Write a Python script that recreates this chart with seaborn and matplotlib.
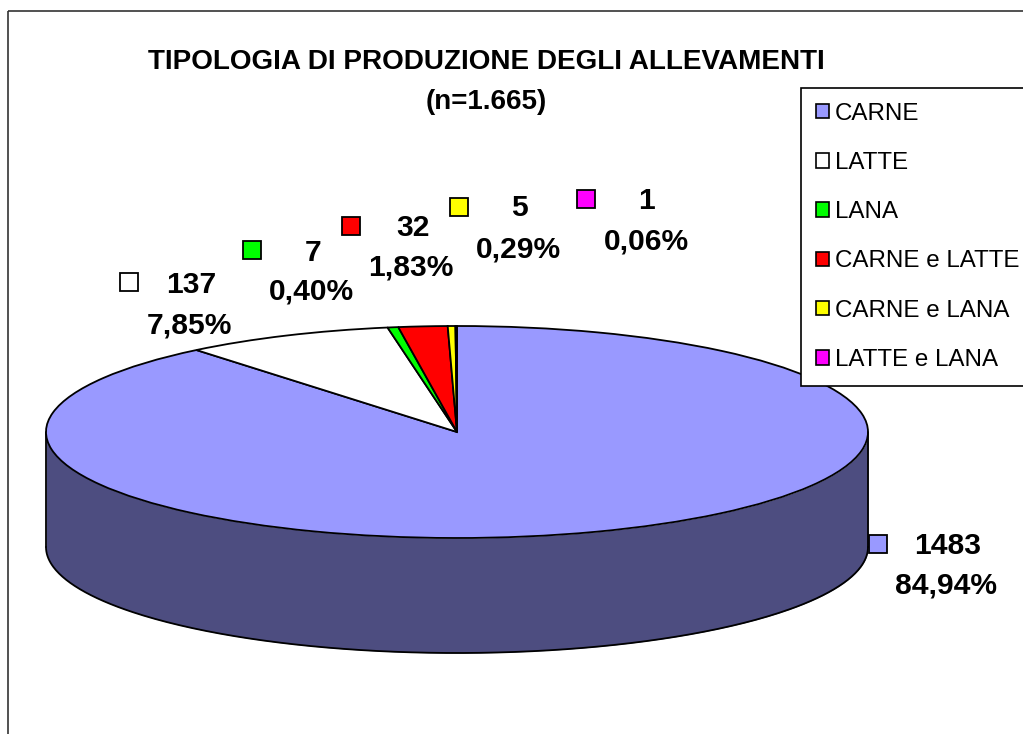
import numpy as np
import seaborn as sns
import matplotlib.pyplot as plt
from matplotlib.patches import Rectangle

# data
categories = ['CARNE', 'LATTE', 'LANA', 'CARNE e LATTE', 'CARNE e LANA', 'LATTE e LANA']
counts = [1483, 137, 7, 32, 5, 1]
percent_labels = ['84,94%', '7,85%', '0,40%', '1,83%', '0,29%', '0,06%']
colors = ['#9999FF', '#FFFFFF', '#00FF00', '#FF0000', '#FFFF00', '#FF00FF']
side_color = '#4D4D80'
title_lines = ['TIPOLOGIA DI PRODUZIONE DEGLI ALLEVAMENTI', '(n=1.665)']

W, H = 1023, 734

sns.set_theme(style='white')
plt.rcParams['font.family'] = ['Liberation Sans', 'DejaVu Sans']
palette = sns.color_palette(colors)

fig = plt.figure(figsize=(W / 100, H / 100), dpi=100, facecolor='white')

# background axes in pixel coordinates, for the frame and the labels
ax = fig.add_axes([0, 0, 1, 1], zorder=0)
ax.set_xlim(0, W)
ax.set_ylim(H, 0)
ax.axis('off')

ax.add_patch(Rectangle((8, 11), W + 20, H + 20, fill=False, edgecolor='#333333', lw=1.2))

ax.text(486, 62, title_lines[0], ha='center', va='center', fontsize=20.1, fontweight='bold', color='black')
ax.text(486, 102, title_lines[1], ha='center', va='center', fontsize=20, fontweight='bold', color='black')

# key square x, y, count centre, percent centre for each label
label_pos = [
    (869, 535, (948, 546), (946, 586)),
    (120, 273, (191, 285), (189, 325)),
    (243, 241, (313, 253), (311, 292)),
    (342, 217, (413, 228), (411, 267)),
    (450, 198, (519, 208), (518, 250)),
    (577, 190, (647, 201), (646, 241)),
]
for (sx, sy, c_xy, p_xy), n, pct, col in zip(label_pos, counts, percent_labels, palette):
    ax.add_patch(Rectangle((sx, sy), 17.5, 17.5, facecolor=col, edgecolor='black', lw=1.3))
    ax.text(c_xy[0], c_xy[1], str(n), ha='center', va='center', fontsize=21.6, fontweight='bold', color='black')
    ax.text(p_xy[0], p_xy[1], pct, ha='center', va='center', fontsize=21.6, fontweight='bold', color='black')

# pie axes: the unit circle is squashed into the ellipse of the top face
cx, cy, rx, ry = 457, 432, 411, 106
depth = 115
ax_pie = fig.add_axes([(cx - rx) / W, 1 - (cy + ry) / H, 2 * rx / W, 2 * ry / H], zorder=1)
wedges, _ = ax_pie.pie(counts, colors=palette, startangle=90, counterclock=False, radius=1,
                       wedgeprops={'edgecolor': 'black', 'linewidth': 1.3, 'zorder': 3})
ax_pie.set_aspect('auto')
ax_pie.set_xlim(-1, 1)
ax_pie.set_ylim(-1, 1)
for w in wedges:
    w.set_clip_on(False)

# side wall of the cylinder
t = np.linspace(np.pi, 2 * np.pi, 300)
d = depth / ry
ax_pie.fill_between(np.cos(t), np.sin(t), np.sin(t) - d, color=side_color, lw=0, zorder=1, clip_on=False)
ax_pie.plot(np.cos(t), np.sin(t) - d, color='black', lw=1.3, zorder=2, clip_on=False)
ax_pie.plot([-1, -1], [0, -d], color='black', lw=1.3, zorder=2, clip_on=False)
ax_pie.plot([1, 1], [0, -d], color='black', lw=1.3, zorder=2, clip_on=False)

# legend runs off the right edge like in the original
handles = [Rectangle((0, 0), 1, 1, facecolor=c, edgecolor='black', lw=1.2) for c in palette]
leg = fig.legend(handles, categories, loc='upper left', bbox_to_anchor=(801 / W, 1 - 88 / H),
                 bbox_transform=fig.transFigure, borderaxespad=0, fontsize=17.4, frameon=True,
                 fancybox=False, framealpha=1, edgecolor='black', handlelength=0.55, handleheight=0.55,
                 handletextpad=0.25, labelspacing=1.13, borderpad=0.6)
leg.get_frame().set_linewidth(1.2)
for text in leg.get_texts():
    text.set_color('black')

fig.savefig('out.png', dpi=100)
